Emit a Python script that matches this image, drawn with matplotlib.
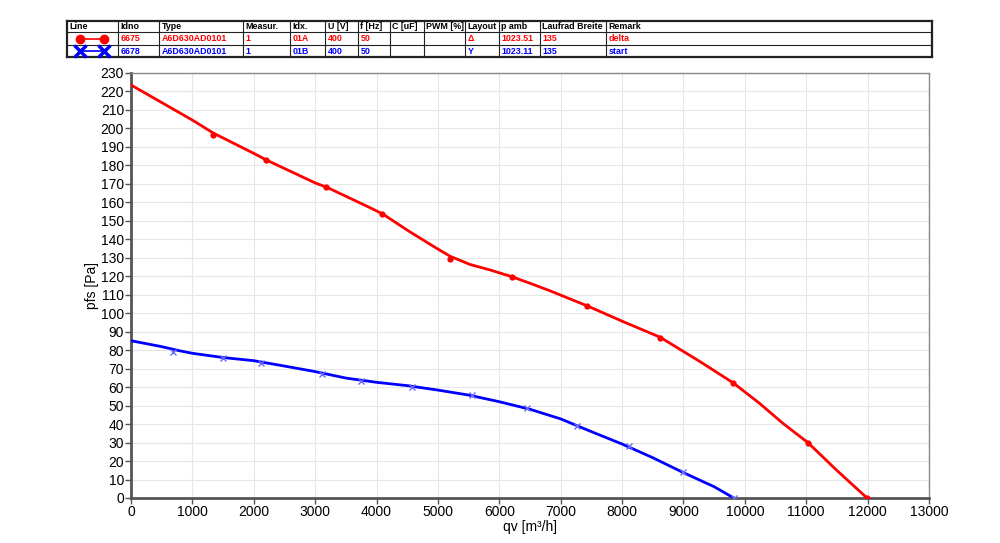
import matplotlib.pyplot as plt
from matplotlib.lines import Line2D

plt.rcParams['font.family'] = ['Liberation Sans', 'DejaVu Sans']

# table contents
columns = ["Line", "Idno", "Type", "Measur.", "Idx.", "U [V]", "f [Hz]", "C [uF]",
           "PWM [%]", "Layout", "p amb", "Laufrad Breite", "Remark"]
row_delta = ["", "6675", "A6D630AD0101", "1", "01A", "400", "50", "", "", "\u0394", "1023.51", "135", "delta"]
row_start = ["", "6678", "A6D630AD0101", "1", "01B", "400", "50", "", "", "Y", "1023.11", "135", "start"]

# measured points
delta_q = [1335, 2199, 3176, 4095, 5190, 6205, 7425, 8616, 9810, 11030, 11987]
delta_p = [196.4, 182.9, 168.3, 153.5, 129.5, 119.7, 103.9, 86.7, 62.3, 29.9, 0]
start_q = [689, 1493, 2117, 3116, 3746, 4571, 5559, 6445, 7269, 8116, 8995, 9821]
start_p = [78.8, 75.9, 73.2, 67.1, 63.3, 60.1, 55.7, 48.7, 39.0, 28.1, 14.1, 0]

# fitted curves
delta_cq = [0, 500, 1000, 1340, 2000, 2200, 3000, 3200, 3900, 4100, 4540, 4980, 5200,
            5520, 5850, 6200, 6500, 6820, 7430, 8020, 8620, 9270, 9810, 10240, 10620,
            11030, 11490, 11990]
delta_cp = [223.5, 214, 204.5, 197.5, 186.5, 183, 170.5, 168, 157, 153.7, 144.1, 135.1, 130.8,
            126.4, 123.4, 119.8, 116.2, 112.2, 104, 95.4, 87, 73.8, 62.3, 51.2, 40.4,
            29.9, 15.2, 0]
start_cq = [0, 500, 800, 1000, 1500, 2000, 2500, 3000, 3500, 4000, 4500, 5000, 5500, 6000,
            6500, 7000, 7500, 8000, 8500, 9000, 9500, 9820]
start_cp = [85.1, 81.9, 79.6, 78.3, 76.0, 74.3, 71.4, 68.4, 64.9, 62.6, 60.8, 58.4, 55.7, 52.1,
            48.0, 42.8, 35.9, 29.2, 21.8, 13.7, 6.1, 0]

RED = "#ff0000"
BLUE = "#0000ff"

fig = plt.figure(figsize=(10, 5.43), dpi=100)
W, H = 1000, 543


def fx(px):
    return px / W


def fy(py):
    return 1 - py / H


# ---- table at the top ----
col_x = [67, 118, 159, 243, 290, 325, 358, 390, 424, 465, 499, 540, 606, 932]
row_y = [21, 32, 45, 57]
for y in row_y:
    lw = 1.6 if y in (row_y[0], row_y[-1]) else 0.8
    fig.add_artist(Line2D([fx(col_x[0]), fx(col_x[-1])], [fy(y), fy(y)], color="#222222", lw=lw))
for i, x in enumerate(col_x):
    lw = 1.6 if i in (0, len(col_x) - 1) else 0.8
    fig.add_artist(Line2D([fx(x), fx(x)], [fy(row_y[0]), fy(row_y[-1])], color="#222222", lw=lw))

rows = [(columns, "black"), (row_delta, RED), (row_start, BLUE)]
for r, (vals, col) in enumerate(rows):
    ymid = (row_y[r] + row_y[r + 1]) / 2
    for c, txt in enumerate(vals):
        if not txt:
            continue
        fig.text(fx(col_x[c] + 2.5), fy(ymid), txt, color=col, fontsize=6.4,
                 fontweight="bold", ha="left", va="center")

# line samples in the "Line" column
for r, (col, mk, ms) in enumerate([(RED, "o", 6), (BLUE, "x", 8)], start=1):
    ymid = fy((row_y[r] + row_y[r + 1]) / 2)
    fig.add_artist(Line2D([fx(80), fx(104)], [ymid, ymid], color=col, lw=1.2,
                          marker=mk, ms=ms, mew=2.5 if mk == "x" else 1))

# ---- chart ----
ax = fig.add_axes([0.131, 0.0829, 0.798, 0.7827])
ax.plot(delta_cq, delta_cp, color=RED, lw=2, zorder=3)
ax.plot(delta_q, delta_p, "o", color=RED, ms=3.5, zorder=4)
ax.plot(start_cq, start_cp, color=BLUE, lw=2, zorder=3)
ax.plot(start_q, start_p, "x", color="#6a6aff", ms=4, mew=1, zorder=4)

ax.set_xlim(0, 13000)
ax.set_ylim(0, 230)
ax.set_xticks(range(0, 13001, 1000))
ax.set_yticks(range(0, 231, 10))
ax.tick_params(labelsize=10, length=4, width=1, color="#555555", pad=1)
ax.grid(True, color="#e6e6e6", lw=0.8)
ax.set_axisbelow(True)

for side in ("left", "bottom"):
    ax.spines[side].set_color("#555555")
    ax.spines[side].set_linewidth(2)
for side in ("top", "right"):
    ax.spines[side].set_color("#888888")
    ax.spines[side].set_linewidth(1)

ax.set_xlabel("qv [m\u00b3/h]", fontsize=10, labelpad=1)
ax.set_ylabel("pfs [Pa]", fontsize=10, labelpad=1)

fig.savefig("out.png", dpi=100)
